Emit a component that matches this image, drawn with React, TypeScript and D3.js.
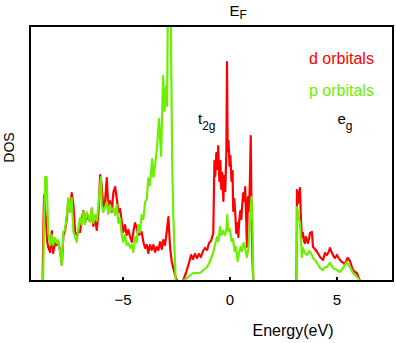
import React from "react";
import * as d3 from "d3";

// ---- data ----
const dEnergy = [
  -9.35, -8.76, -8.72, -8.69, -8.64, -8.6, -8.55, -8.5, -8.41, -8.33, -8.27, -8.18, -8.1, -8.04, -7.94, -7.86,
  -7.79, -7.71, -7.63, -7.56, -7.48, -7.4, -7.32, -7.24, -7.16, -7.09, -7.01, -6.93, -6.86, -6.78, -6.7, -6.62,
  -6.54, -6.46, -6.39, -6.31, -6.23, -6.15, -6.07, -6.0, -5.92, -5.84, -5.76, -5.69, -5.61, -5.53, -5.45, -5.37,
  -5.29, -5.22, -5.14, -5.06, -4.99, -4.91, -4.83, -4.75, -4.67, -4.59, -4.52, -4.44, -4.36, -4.29, -4.21, -4.13,
  -4.05, -3.97, -3.89, -3.82, -3.74, -3.66, -3.58, -3.5, -3.43, -3.35, -3.27, -3.19, -3.12, -3.04, -2.96, -2.88,
  -2.8, -2.72, -2.65, -2.57, -2.49, -2.43, -2.2, -2.06, -1.92, -1.82, -1.73, -1.64, -1.54, -1.45, -1.36, -1.26,
  -1.17, -1.07, -0.98, -0.89, -0.78, -0.73, -0.69, -0.64, -0.59, -0.55, -0.5, -0.45, -0.41, -0.36, -0.31, -0.27,
  -0.22, -0.17, -0.14, -0.11, -0.07, -0.02, 0.02, 0.07, 0.12, 0.15, 0.2, 0.25, 0.29, 0.34, 0.39, 0.43,
  0.48, 0.53, 0.57, 0.62, 0.67, 0.71, 0.76, 0.79, 0.84, 0.89, 0.93, 0.97, 1.0, 1.05, 1.09, 3.11,
  3.13, 3.18, 3.22, 3.27, 3.32, 3.36, 3.41, 3.46, 3.5, 3.55, 3.6, 3.64, 3.69, 3.74, 3.83, 3.88,
  3.97, 4.07, 4.16, 4.21, 4.3, 4.35, 4.44, 4.53, 4.63, 4.67, 4.77, 4.86, 4.91, 5.0, 5.05, 5.14,
  5.23, 5.33, 5.37, 5.47, 5.51, 5.61, 5.7, 5.75, 5.84, 5.93, 6.0, 6.07, 7.62,
];
const dValue = [
  0, 0, 60, 86, 70, 62, 40, 34, 29, 50, 28, 38, 36, 40, 30, 16,
  45, 50, 62, 80, 72, 88, 76, 49, 46, 49, 49, 62, 70, 58, 66, 62,
  60, 72, 55, 64, 51, 68, 106, 96, 73, 80, 103, 73, 80, 69, 89, 94,
  82, 69, 72, 59, 49, 56, 46, 51, 44, 39, 49, 58, 53, 46, 47, 49,
  39, 33, 36, 28, 36, 31, 36, 29, 34, 31, 39, 32, 41, 36, 49, 64,
  33, 19, 13, 6, 1, 0, 0, 8, 18, 26, 22, 27, 23, 27, 24, 30,
  33, 31, 38, 40, 48, 120, 105, 128, 112, 135, 100, 120, 92, 108, 80, 105,
  90, 130, 219, 130, 140, 115, 125, 100, 110, 70, 82, 66, 48, 58, 44, 60,
  70, 62, 76, 88, 80, 94, 60, 34, 84, 70, 100, 145, 80, 20, 0, 0,
  91, 78, 85, 93, 61, 44, 48, 40, 38, 44, 40, 38, 42, 48, 49, 34,
  32, 29, 26, 24, 22, 21, 28, 26, 30, 33, 28, 24, 23, 26, 24, 21,
  19, 18, 16, 22, 23, 20, 14, 11, 9, 8, 4, 0, 0,
];

const pEnergy = [
  -9.35, -8.74, -8.69, -8.64, -8.57, -8.5, -8.41, -8.33, -8.27, -8.18, -8.1, -8.04, -7.94, -7.86, -7.79, -7.71,
  -7.63, -7.56, -7.48, -7.4, -7.32, -7.24, -7.16, -7.09, -7.01, -6.93, -6.86, -6.78, -6.7, -6.62, -6.54, -6.46,
  -6.39, -6.31, -6.23, -6.15, -6.07, -6.03, -6.0, -5.92, -5.84, -5.76, -5.69, -5.61, -5.53, -5.45, -5.37, -5.29,
  -5.22, -5.14, -5.06, -4.99, -4.91, -4.83, -4.75, -4.67, -4.59, -4.52, -4.44, -4.36, -4.29, -4.21, -4.13, -4.05,
  -3.97, -3.89, -3.82, -3.74, -3.64, -3.58, -3.5, -3.41, -3.32, -3.22, -3.13, -3.06, -2.99, -2.94, -2.9, -2.78,
  -2.7, -2.65, -2.59, -2.54, -2.2, -2.01, -1.73, -1.4, -1.07, -0.93, -0.79, -0.7, -0.61, -0.54, -0.47, -0.4,
  -0.33, -0.23, -0.17, -0.13, -0.08, 0.0, 0.07, 0.14, 0.21, 0.28, 0.35, 0.42, 0.49, 0.56, 0.63, 0.7,
  0.79, 0.86, 0.93, 1.0, 1.05, 1.09, 3.13, 3.14, 3.22, 3.27, 3.32, 3.36, 3.41, 3.5, 3.6, 3.69,
  3.74, 3.83, 3.88, 3.97, 4.07, 4.21, 4.35, 4.44, 4.53, 4.67, 4.77, 4.81, 4.91, 5.0, 5.14, 5.28,
  5.37, 5.47, 5.56, 5.61, 5.75, 5.89, 5.98, 6.07, 7.62,
];
const pValue = [
  0, 0, 60, 104, 104, 49, 36, 46, 36, 43, 38, 41, 29, 16, 49, 51,
  66, 83, 69, 83, 49, 44, 39, 53, 63, 56, 69, 57, 69, 64, 59, 73,
  58, 66, 60, 76, 96, 104, 76, 69, 74, 79, 67, 76, 70, 73, 66, 76,
  58, 63, 46, 39, 46, 36, 38, 33, 36, 29, 44, 39, 56, 49, 66, 62,
  79, 82, 103, 96, 122, 104, 116, 134, 162, 125, 205, 170, 195, 175, 290, 290,
  114, 66, 30, 0, 0, 3, 8, 8, 14, 20, 28, 36, 44, 40, 54, 46,
  50, 46, 52, 66, 50, 52, 40, 42, 30, 34, 20, 28, 34, 30, 38, 34,
  24, 32, 58, 84, 60, 0, 0, 74, 62, 59, 40, 24, 33, 28, 26, 30,
  29, 26, 23, 21, 18, 13, 11, 14, 14, 18, 15, 13, 12, 11, 9, 13,
  16, 19, 15, 14, 8, 5, 3, 0, 0,
];

const xTicks = [-5, 0, 5];
const xTickLabels = ["\u22125", "0", "5"];
const seriesNames = ["d orbitals", "p orbitals"];
const seriesColors = ["#ff0000", "#6cf000"];

const W = 396;
const H = 343;
const M = { left: 30, right: 3, top: 26, bottom: 62 };
const FONT = "'Liberation Sans', Arial, Helvetica, sans-serif";

export default function App() {
  const x = d3.scaleLinear().domain([-9.35, 7.62]).range([M.left, W - M.right]);
  const y = d3.scaleLinear().domain([0, 255]).range([H - M.bottom, M.top]);

  const mk = (es: number[], vs: number[]) =>
    d3
      .line<number>()
      .x((_, i) => x(es[i]))
      .y((v) => y(v))(vs) || "";

  const dPath = mk(dEnergy, dValue);
  const pPath = mk(pEnergy, pValue);

  const x0 = M.left;
  const x1 = W - M.right;
  const y0 = M.top;
  const y1 = H - M.bottom;

  return (
    <svg
      width={W}
      height={H}
      style={{ position: "absolute", left: 0, top: 0, background: "#fff" }}
      fontFamily={FONT}
    >
      <defs>
        <clipPath id="plotclip">
          <rect x={x0} y={y0} width={x1 - x0} height={y1 - y0} />
        </clipPath>
      </defs>
      <g clipPath="url(#plotclip)">
        <path d={dPath} fill="none" stroke={seriesColors[0]} strokeWidth={2.2} strokeLinejoin="round" />
        <path d={pPath} fill="none" stroke={seriesColors[1]} strokeWidth={2.2} strokeLinejoin="round" />
      </g>
      <rect x={x0} y={y0} width={x1 - x0} height={y1 - y0} fill="none" stroke="#000" strokeWidth={2} />
      {xTicks.map((t, i) => (
        <g key={t}>
          <line x1={x(t)} x2={x(t)} y1={y1} y2={y1 - 4} stroke="#000" strokeWidth={2} />
          <text x={x(t)} y={304.5} textAnchor="middle" fontSize={15} fill="#000">
            {xTickLabels[i]}
          </text>
        </g>
      ))}
      <text x={293} y={336} textAnchor="middle" fontSize={16} fill="#000">
        Energy(eV)
      </text>
      <text
        transform="translate(13.5,147.5) rotate(-90)"
        textAnchor="middle"
        fontSize={14}
        fill="#000"
      >
        DOS
      </text>
      <text x={229.5} y={16} fontSize={15} fill="#000">
        E<tspan fontSize={12} dy={3}>F</tspan>
      </text>
      <text x={309} y={63.5} fontSize={16} fill={seriesColors[0]}>
        {seriesNames[0]}
      </text>
      <text x={309} y={96} fontSize={16} fill={seriesColors[1]}>
        {seriesNames[1]}
      </text>
      <text x={198} y={123.5} fontSize={15} fill="#000">
        t<tspan fontSize={12} dy={6}>2g</tspan>
      </text>
      <text x={337.5} y={123.5} fontSize={15} fill="#000">
        e<tspan fontSize={12} dy={6}>g</tspan>
      </text>
    </svg>
  );
}
